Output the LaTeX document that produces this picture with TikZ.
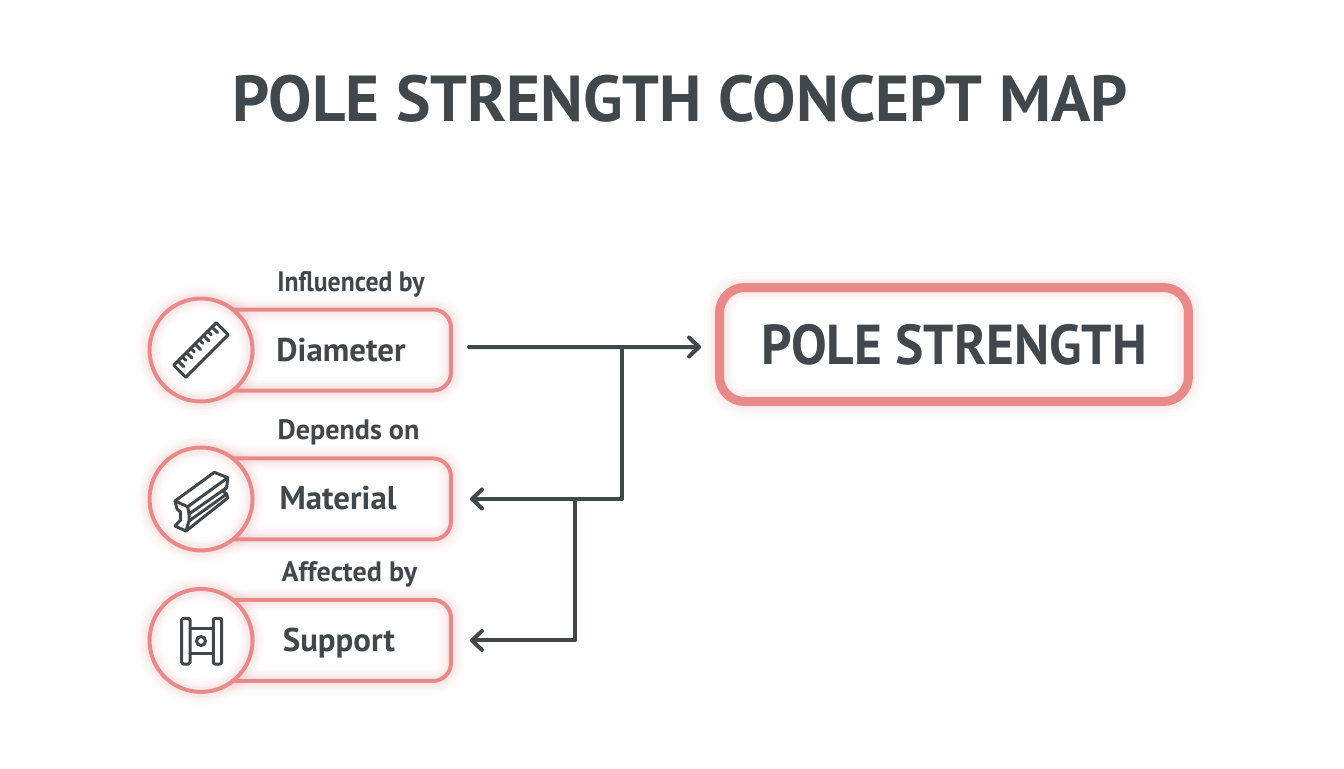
\documentclass[tikz,border=0pt]{standalone}
\usepackage{fontspec}
\setmainfont{PT Sans}
\usepackage{xcolor}
\usetikzlibrary{positioning,calc,arrows.meta}
\definecolor{pagebg}{HTML}{FEFEFE}
\definecolor{inkgray}{HTML}{40474D}
\definecolor{ringred}{HTML}{E98A8A}

\begin{document}
\begin{tikzpicture}[x=0.02cm, y=-0.02cm, auto,
    glow/.style={preaction={fill=white},
        preaction={draw=ringred, opacity=.025, line width=#1*2.6},
        preaction={draw=ringred, opacity=.035, line width=#1*2.0},
        preaction={draw=ringred, opacity=.05, line width=#1*1.5},
        preaction={draw=ringred, opacity=.07, line width=#1}},
    box/.style={rectangle, draw=ringred, line width=.08cm, glow=.2cm, rounded corners=.36cm, minimum width=5cm, minimum height=1.62cm, text=inkgray, text height=.54cm, text depth=.1cm, font=\fontsize{18.7}{22}\selectfont\bfseries},
    ring/.style={circle, draw=ringred, line width=.08cm, glow=.2cm, minimum size=2.06cm, inner sep=0pt},
    mainbox/.style={rectangle, draw=ringred, line width=.18cm, glow=.24cm, rounded corners=.5cm, minimum width=9.38cm, minimum height=2.28cm, text=inkgray, font=\fontsize{32}{36}\selectfont\bfseries},
    sublabel/.style={text=inkgray, text height=.4cm, text depth=.14cm, font=\fontsize{16}{20}\selectfont\bfseries},
    arrow/.style={-{Straight Barb[round,length=.2cm,width=.38cm]}, draw=inkgray, line width=.08cm, line cap=round, line join=round, shorten <=.32cm, shorten >=.28cm},
    branch/.style={-{Straight Barb[round,length=.2cm,width=.38cm]}, draw=inkgray, line width=.08cm, line cap=round, line join=round, shorten >=.34cm},
    icon/.style={draw=inkgray, line width=.06cm, line cap=round, line join=round}]

    \fill[pagebg] (0,0) rectangle (1344,768);
    \useasboundingbox (0,0) rectangle (1344,768);

    \node[text=inkgray, font=\fontsize{37}{42}\selectfont\bfseries] (title) at (680,99) {POLE STRENGTH CONCEPT MAP};

    \node[mainbox] (pole) at (954,344.5) {\scalebox{.95}[1]{POLE STRENGTH}};

    \node[box] (diameter) at (326,350) {\hspace{.6cm}Diameter};
    \node[box, below of=diameter, node distance=2.98cm] (material) {\hspace{.48cm}Material};
    \node[box, below of=material, node distance=2.83cm] (support) {\hspace{.52cm}Support};

    \node[ring, left of=diameter, node distance=2.5cm] (diameterring) {};
    \node[ring, left of=material, node distance=2.5cm] (materialring) {};
    \node[ring, left of=support, node distance=2.5cm] (supportring) {};

    \node[sublabel, above of=diameter, node distance=1.31cm, xshift=.5cm] (influenced) {\scalebox{.915}[1]{Influenced by}};
    \node[sublabel, above of=material, node distance=1.31cm, xshift=.45cm] (depends) {Depends on};
    \node[sublabel, above of=support, node distance=1.3cm, xshift=.47cm] (affected) {Affected by};

    % connectors
    \coordinate (junctiona) at (622,347);
    \coordinate (junctionb) at (575,499);
    \draw[arrow] ([yshift=.06cm]diameter.east) -- ([yshift=-.05cm]pole.west);
    \draw[branch] (junctiona) |- (material.east);
    \draw[branch] (junctionb) |- (support.east);

    % ruler
    \begin{scope}[shift={(diameterring.center)}, rotate=45]
        \draw[icon] (-30,-8.5) rectangle (30,8.5);
        \foreach \i in {1,...,9} {
            \pgfmathsetmacro{\ticklen}{mod(\i,2)==1 ? 8 : 5}
            \draw[icon] (-30+\i*6,-8.5) -- (-30+\i*6,-8.5+\ticklen);
        }
    \end{scope}

    % beam
    \draw[icon] (175,501) -- (214.3,472.3) -- (227.7,477.7) -- (187.7,506.7) -- cycle;
    \draw[icon] (227.7,477.7) -- (226.7,487.7) -- (189,514) -- (187.7,506.7);
    \draw[icon] (175,501) -- (177,509) -- (180.5,512) -- (180.5,520) -- (175,526) -- (186,531) -- (189,521) -- (189,514);
    \draw[icon] (189,521) -- (226.7,494) -- (227.7,498) -- (186,531);
    \draw[icon] (226.7,487.7) -- (222.5,491) -- (226.7,494);

    % support
    \draw[icon, rounded corners=.03cm] (181.7,618.3) rectangle (190,664);
    \draw[icon, rounded corners=.03cm] (213.3,618.3) rectangle (221.7,664);
    \draw[icon] (190,628.3) -- (213.3,628.3);
    \draw[icon] (190,653.3) -- (213.3,653.3);
    \draw[icon] (201,641) circle (.09cm);
\end{tikzpicture}
\end{document}
